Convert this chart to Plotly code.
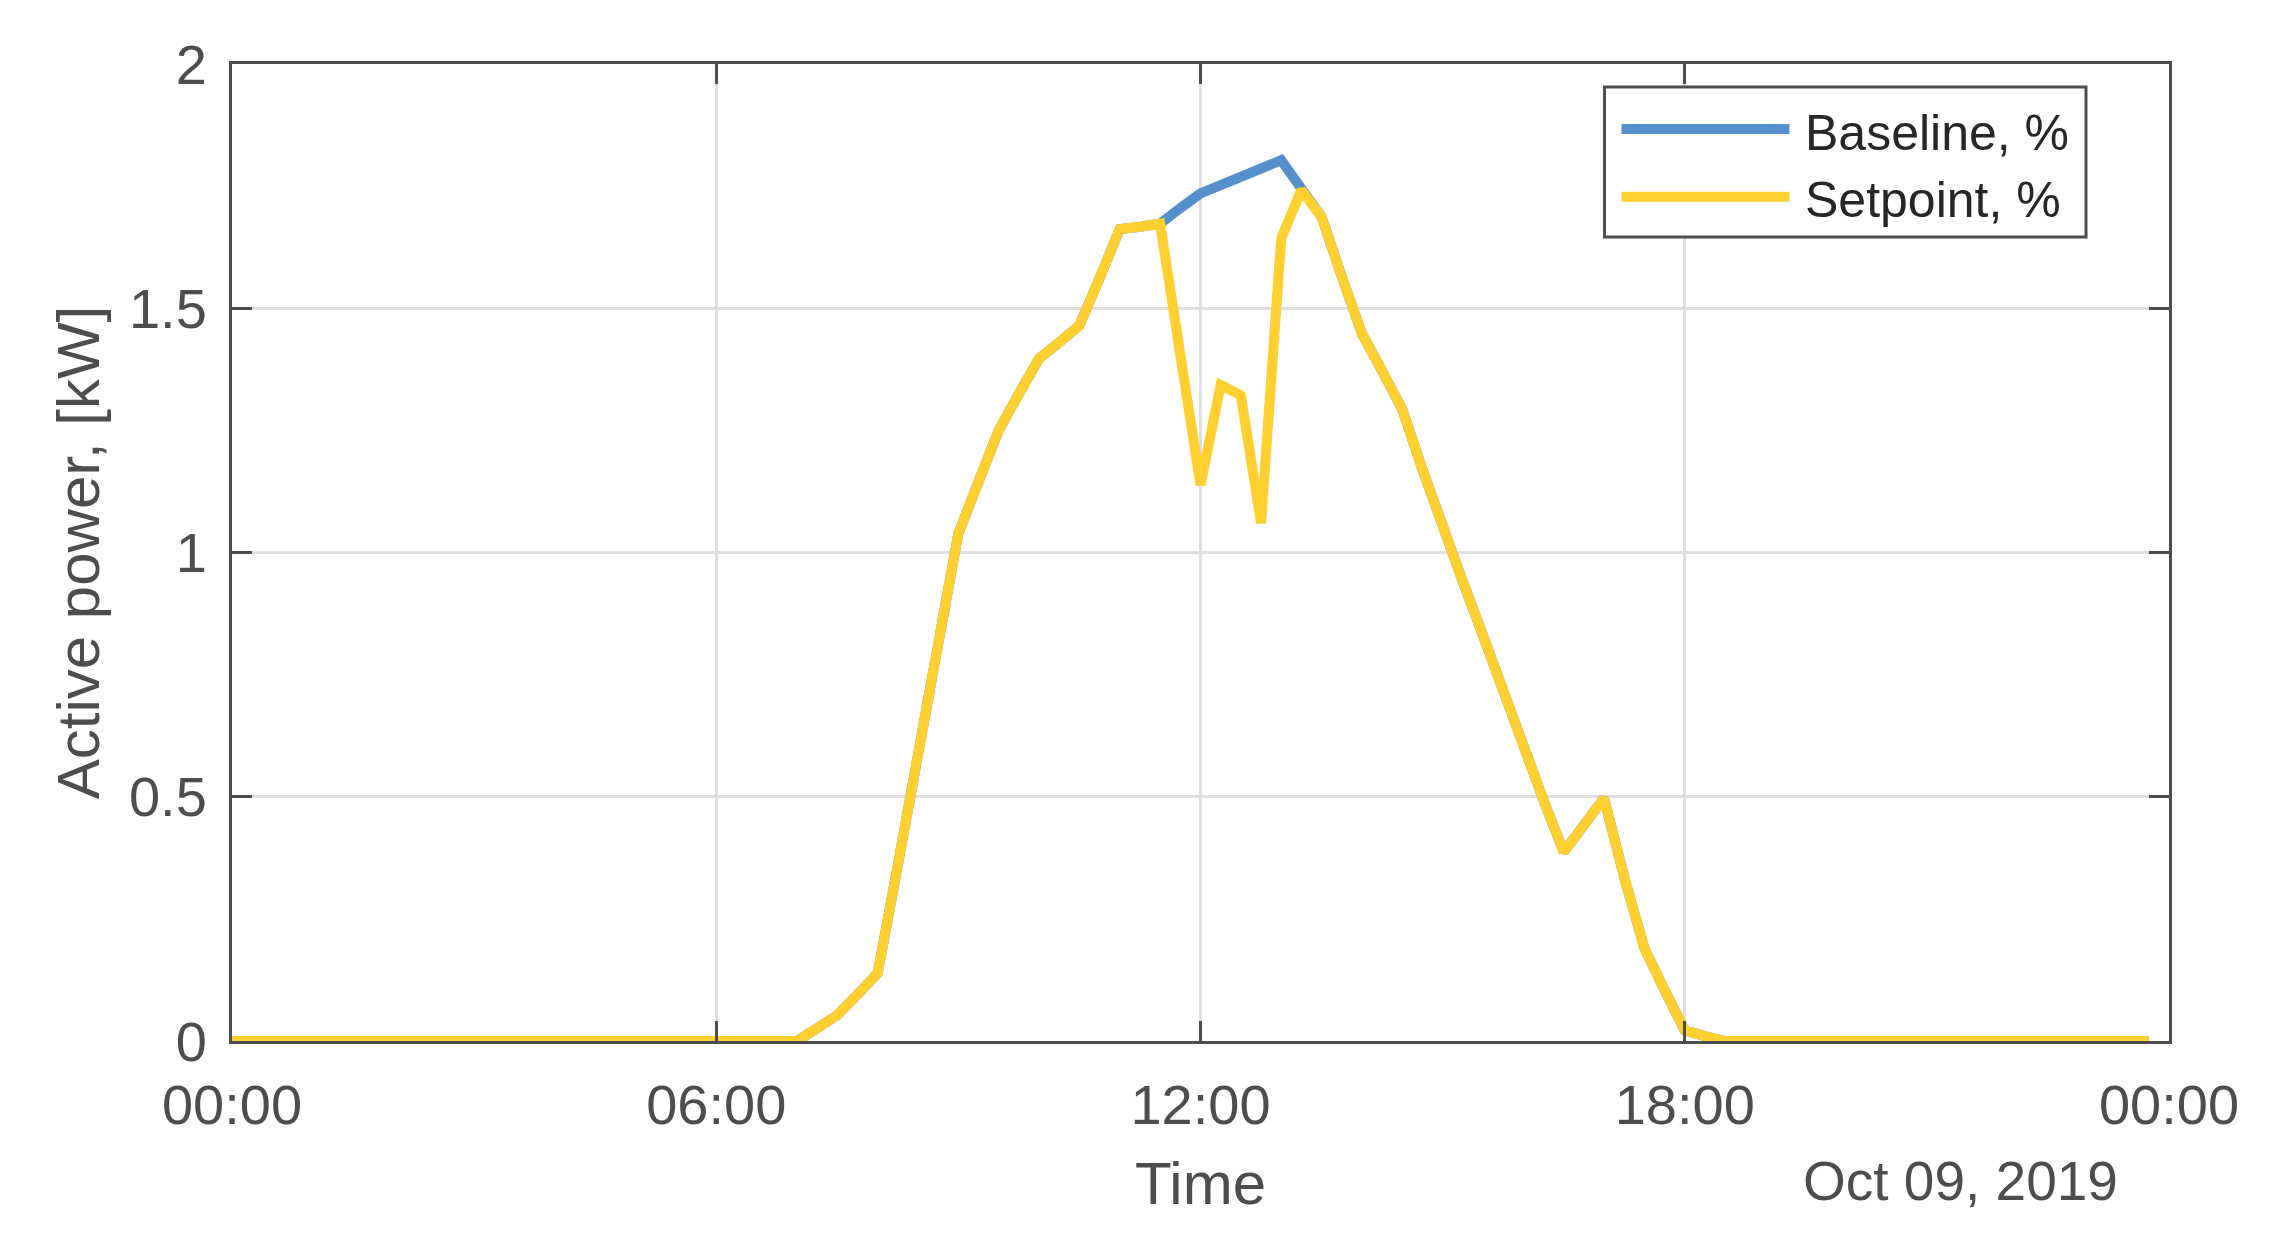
import pandas as pd
import plotly.graph_objects as go

# ---------------- data (15-minute samples, Oct 09, 2019) ----------------
times = pd.date_range("2019-10-09 00:00", periods=96, freq="15min")

setpoint = (
    [0.0] * 29 +                      # 00:00 - 07:00
    [0.026, 0.053, 0.095, 0.139,      # 07:15 - 08:00
     0.36, 0.59, 0.815, 1.039,        # 08:15 - 09:00
     1.145, 1.25, 1.325, 1.397,       # 09:15 - 10:00
     1.43, 1.465, 1.562, 1.662,       # 10:15 - 11:00
     1.667, 1.673, 1.405, 1.138,      # 11:15 - 12:00
     1.343, 1.322, 1.06, 1.643,       # 12:15 - 13:00
     1.742, 1.687, 1.565, 1.448,      # 13:15 - 14:00
     1.372, 1.293, 1.17, 1.05,        # 14:15 - 15:00
     0.94, 0.83, 0.715, 0.6,          # 15:15 - 16:00
     0.493, 0.387, 0.442, 0.497,      # 16:15 - 17:00
     0.335, 0.19, 0.104, 0.022,       # 17:15 - 18:00
     0.01, 0.0] +                     # 18:15 - 18:30
    [0.0] * 21                        # 18:45 - 23:45
)

baseline = (
    [0.0] * 29 +
    [0.026, 0.053, 0.095, 0.139,
     0.36, 0.59, 0.815, 1.039,
     1.145, 1.25, 1.325, 1.397,
     1.43, 1.465, 1.562, 1.662,
     1.667, 1.673, 1.705, 1.735,
     1.752, 1.769, 1.786, 1.803,
     1.745, 1.687, 1.565, 1.448,
     1.372, 1.293, 1.17, 1.05,
     0.94, 0.83, 0.715, 0.6,
     0.493, 0.387, 0.442, 0.497,
     0.335, 0.19, 0.104, 0.022,
     0.01, 0.0] +
    [0.0] * 21
)

series_names = ["Baseline, %", "Setpoint, %"]
y_ticks = [0, 0.5, 1, 1.5, 2]
y_ticklabels = ["0", "0.5", "1", "1.5", "2"]
date_label = "Oct 09, 2019"
x_title = "Time"
y_title = "Active power, [kW]"

# ---------------- styling ----------------
W, H = 2270, 1250
OFF = 8  # page body margin
ML, MR, MT, MB = 232 - OFF, 101 + OFF, 64 - OFF, 209 + OFF
PW, PH = W - ML - MR, H - MT - MB

BLUE = "#5590CD"
YELLOW = "#FFCE2F"
AX = "#4D4D4D"
GRID = "#DFDFDF"
FONT = "Liberation Sans, Arial, Helvetica, sans-serif"
LW = 10


def px(x):
    # page-pixel x -> paper coordinate
    return (x - OFF - ML) / PW


def py(y):
    # page-pixel y -> paper coordinate
    return (H - MB - (y - OFF)) / PH


fig = go.Figure()
fig.add_trace(go.Scatter(x=times, y=baseline, mode="lines", name=series_names[0],
                         line=dict(color=BLUE, width=LW), showlegend=False))
fig.add_trace(go.Scatter(x=times, y=setpoint, mode="lines", name=series_names[1],
                         line=dict(color=YELLOW, width=LW), showlegend=False))

axis_common = dict(
    showline=True, linecolor=AX, linewidth=3, mirror="allticks",
    ticks="inside", ticklen=20, tickwidth=3, tickcolor=AX,
    showgrid=True, gridcolor=GRID, gridwidth=3, zeroline=False,
    tickfont=dict(family=FONT, size=56, color=AX),
)

fig.update_xaxes(
    type="date",
    range=[times[0], times[0] + pd.Timedelta(hours=24)],
    tick0=times[0], dtick=6 * 3600 * 1000, tickformat="%H:%M",
    ticklabelstandoff=13,
    title=dict(text=x_title, font=dict(family=FONT, size=60, color=AX), standoff=27),
    **axis_common,
)
fig.update_yaxes(
    range=[0, 2], tickvals=y_ticks, ticktext=y_ticklabels,
    ticklabelstandoff=11,
    title=dict(text=y_title, font=dict(family=FONT, size=60, color=AX), standoff=10),
    **axis_common,
)

# custom legend (box, line samples, labels)
lx0, lx1, ly0, ly1 = 1604.5, 2086, 87, 237
shapes = [
    dict(type="rect", xref="paper", yref="paper", x0=px(lx0), x1=px(lx1),
         y0=py(ly1), y1=py(ly0), line=dict(color=AX, width=3), fillcolor="white", layer="above"),
]
annotations = []
for name, color, yc, yt in [(series_names[0], BLUE, 129, 133), (series_names[1], YELLOW, 196.7, 200)]:
    shapes.append(dict(type="line", xref="paper", yref="paper", x0=px(1621.5), x1=px(1789.5),
                       y0=py(yc), y1=py(yc), line=dict(color=color, width=LW), layer="above"))
    annotations.append(dict(text=name, xref="paper", yref="paper", x=px(1803), y=py(yt),
                            xanchor="left", yanchor="middle", showarrow=False,
                            font=dict(family=FONT, size=50, color="#262626")))

annotations.append(dict(text=date_label, xref="paper", yref="paper", x=px(1960.6), y=py(1181),
                        xanchor="center", yanchor="middle", showarrow=False,
                        font=dict(family=FONT, size=55, color=AX)))

fig.update_layout(
    width=W, height=H,
    margin=dict(l=ML, r=MR, t=MT, b=MB, autoexpand=False),
    paper_bgcolor="white", plot_bgcolor="white",
    shapes=shapes, annotations=annotations,
    showlegend=False,
)

fig.write_html("out.html")
